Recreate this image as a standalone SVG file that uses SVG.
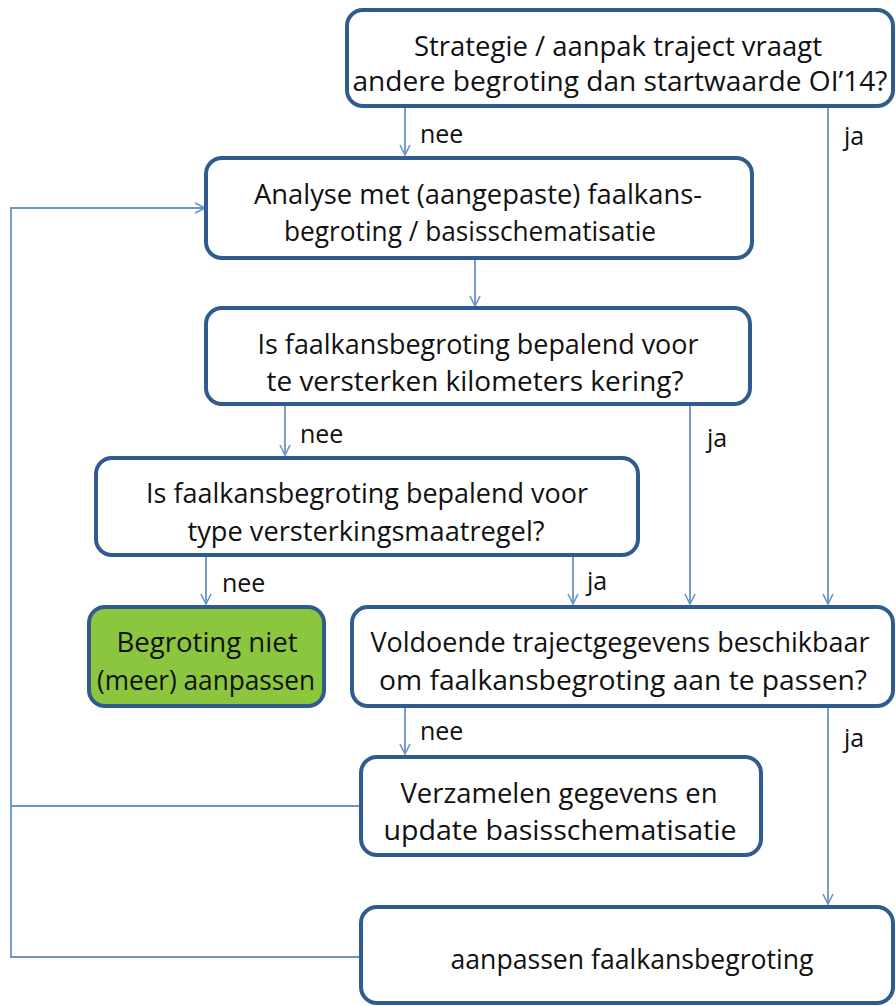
<svg xmlns="http://www.w3.org/2000/svg" width="896" height="1006" viewBox="0 0 896 1006">
<defs>
<style>
.box{fill:#fff;stroke:#2f5b8f;stroke-width:4}
.green{fill:#8cc63e}
.t{font-family:"Open Sans","Liberation Sans",sans-serif;font-size:26.5px;fill:#111;text-anchor:middle}
.l{font-family:"Open Sans","Liberation Sans",sans-serif;font-size:25px;fill:#111}
.c{fill:none;stroke:#6a93c8;stroke-width:1.8}
</style>
<marker id="ah" viewBox="0 0 12 12" refX="11" refY="6" markerWidth="12" markerHeight="12" markerUnits="userSpaceOnUse" orient="auto">
<path d="M1,1 L11,6 L1,11" fill="none" stroke="#6a93c8" stroke-width="1.6"/>
</marker>
</defs>
<rect width="896" height="1006" fill="#fff"/>
<g id="connectors">
<path class="c" d="M405,107 V155" marker-end="url(#ah)"/>
<path class="c" d="M828,107 V604" marker-end="url(#ah)"/>
<path class="c" d="M475,259 V306" marker-end="url(#ah)"/>
<path class="c" d="M285,405 V455" marker-end="url(#ah)"/>
<path class="c" d="M690,405 V604" marker-end="url(#ah)"/>
<path class="c" d="M206,556 V604" marker-end="url(#ah)"/>
<path class="c" d="M573,556 V604" marker-end="url(#ah)"/>
<path class="c" d="M405,707 V754" marker-end="url(#ah)"/>
<path class="c" d="M828,707 V904" marker-end="url(#ah)"/>
<path class="c" d="M361,806 H11"/>
<path class="c" d="M361,957 H11 V208 H205" marker-end="url(#ah)"/>
<text class="l" x="420" y="143">nee</text>
<text class="l" x="844" y="145">ja</text>
<text class="l" x="300" y="443">nee</text>
<text class="l" x="707" y="447">ja</text>
<text class="l" x="222" y="592">nee</text>
<text class="l" x="587" y="590">ja</text>
<text class="l" x="420" y="740">nee</text>
<text class="l" x="844" y="747">ja</text>
</g>
<g id="n1">
<rect class="box" x="347" y="10" width="546" height="96" rx="16"/>
<text class="t" x="618" y="56" textLength="408" lengthAdjust="spacingAndGlyphs">Strategie / aanpak traject vraagt</text>
<text class="t" x="620" y="91" textLength="535" lengthAdjust="spacingAndGlyphs">andere begroting dan startwaarde OI’14?</text>
</g>
<g id="n2">
<rect class="box" x="206" y="158" width="546" height="100" rx="16"/>
<text class="t" x="478" y="204" textLength="448" lengthAdjust="spacingAndGlyphs">Analyse met (aangepaste) faalkans-</text>
<text class="t" x="470" y="241" textLength="372" lengthAdjust="spacingAndGlyphs">begroting / basisschematisatie</text>
</g>
<g id="n3">
<rect class="box" x="206" y="308" width="544" height="96" rx="16"/>
<text class="t" x="478" y="354" textLength="441" lengthAdjust="spacingAndGlyphs">Is faalkansbegroting bepalend voor</text>
<text class="t" x="475" y="391" textLength="417" lengthAdjust="spacingAndGlyphs">te versterken kilometers kering?</text>
</g>
<g id="n4">
<rect class="box" x="96" y="458" width="542" height="97" rx="16"/>
<text class="t" x="367" y="503" textLength="442" lengthAdjust="spacingAndGlyphs">Is faalkansbegroting bepalend voor</text>
<text class="t" x="366" y="541" textLength="357" lengthAdjust="spacingAndGlyphs">type versterkingsmaatregel?</text>
</g>
<g id="n5">
<rect class="box green" x="89" y="607" width="235" height="99" rx="16"/>
<text class="t" x="207" y="652" textLength="181" lengthAdjust="spacingAndGlyphs">Begroting niet</text>
<text class="t" x="206" y="690" textLength="218" lengthAdjust="spacingAndGlyphs">(meer) aanpassen</text>
</g>
<g id="n6">
<rect class="box" x="352" y="607" width="541" height="99" rx="16"/>
<text class="t" x="620" y="652" textLength="499" lengthAdjust="spacingAndGlyphs">Voldoende trajectgegevens beschikbaar</text>
<text class="t" x="623" y="690" textLength="488" lengthAdjust="spacingAndGlyphs">om faalkansbegroting aan te passen?</text>
</g>
<g id="n7">
<rect class="box" x="361" y="757" width="400" height="98" rx="16"/>
<text class="t" x="559" y="803" textLength="317" lengthAdjust="spacingAndGlyphs">Verzamelen gegevens en</text>
<text class="t" x="560" y="840" textLength="353" lengthAdjust="spacingAndGlyphs">update basisschematisatie</text>
</g>
<g id="n8">
<rect class="box" x="361" y="907" width="532" height="96" rx="16"/>
<text class="t" x="632" y="969" textLength="363" lengthAdjust="spacingAndGlyphs">aanpassen faalkansbegroting</text>
</g>
</svg>
